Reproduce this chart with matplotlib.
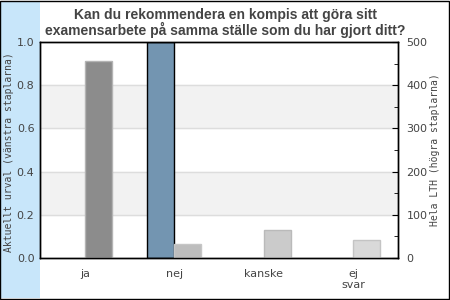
import matplotlib
matplotlib.use("Agg")
import matplotlib.pyplot as plt
from matplotlib.patches import Rectangle
import numpy as np

categories = ["ja", "nej", "kanske", "ej\nsvar"]
urval = [0.0, 1.0, 0.0, 0.0]          # left axis
hela_lth = [455, 33, 65, 42]          # right axis
hela_colors = ["#8c8c8c", "#bdbdbd", "#cbcbcb", "#d9d9d9"]
hela_edges = ["#b4b4b4", "#c6c6c6", "#bababa", "#c4c4c4"]

fig = plt.figure(figsize=(4.5, 3), dpi=100)
fig.patches.append(Rectangle((0, 0.007), 40 / 450, 0.99, transform=fig.transFigure,
                             facecolor="#c8e6fa", edgecolor="none", zorder=-1))
fig.patches.append(Rectangle((0.001, 0.002), 0.997, 0.995, transform=fig.transFigure,
                             facecolor="none", edgecolor="black", lw=1, zorder=5))

ax = fig.add_axes([40 / 450, 42 / 300, 358 / 450, 216 / 300])
ax.set_facecolor("white")
ax2 = ax.twinx()

x = np.arange(len(categories))
w = 0.3

# background bands and grid
for lo in (0.2, 0.6):
    ax.axhspan(lo, lo + 0.2, color="#f2f2f2", zorder=0)
for g in (0.2, 0.4, 0.6, 0.8):
    ax.axhline(g, color="#dddddd", lw=1, zorder=0.5)

left_edges = ["black" if v > 0 else "none" for v in urval]
ax.bar(x - w / 2, urval, width=w, color="#7395b1", edgecolor=left_edges, lw=1, zorder=2)
ax2.bar(x + w / 2, hela_lth, width=w, color=hela_colors, edgecolor=hela_edges, lw=1, zorder=2)

ax.set_xlim(-0.5, 3.5)
ax.set_ylim(0, 1)
ax2.set_ylim(0, 500)

ax.set_xticks(x)
ax.set_xticklabels(categories, fontsize=8, color="#444444", linespacing=1.1)
ax.tick_params(axis="x", length=0, pad=8)
ax.set_yticks(np.arange(0, 1.01, 0.2))
ax.set_yticklabels([f"{v:.1f}" for v in np.arange(0, 1.01, 0.2)], fontsize=8, color="#444444")
ax.tick_params(axis="y", length=0, pad=4)

ax2.set_yticks(range(0, 501, 100))
ax2.set_yticks(range(50, 500, 100), minor=True)
ax2.tick_params(axis="y", which="major", direction="in", length=4, labelsize=8,
                labelcolor="#444444", pad=6)
ax2.tick_params(axis="y", which="minor", direction="in", length=3)

for a in (ax, ax2):
    for s in a.spines.values():
        s.set_color("black")
        s.set_linewidth(1)

ax.set_ylabel("Aktuellt urval (vänstra staplarna)", family="DejaVu Sans Mono",
              fontsize=7, color="#444444")
ax.yaxis.set_label_coords(-0.072, 0.49)
ax2.set_ylabel("Hela LTH (högra staplarna)", family="DejaVu Sans Mono",
               fontsize=7, color="#444444")
ax2.yaxis.set_label_coords(1.09, 0.5)

fig.text(0.5, 0.975, "Kan du rekommendera en kompis att göra sitt\nexamensarbete på samma ställe som du har gjort ditt?",
         ha="center", va="top", fontsize=10, fontweight="bold", color="#444444",
         family="Liberation Sans", linespacing=1.05)

fig.savefig("out.png", dpi=100)
